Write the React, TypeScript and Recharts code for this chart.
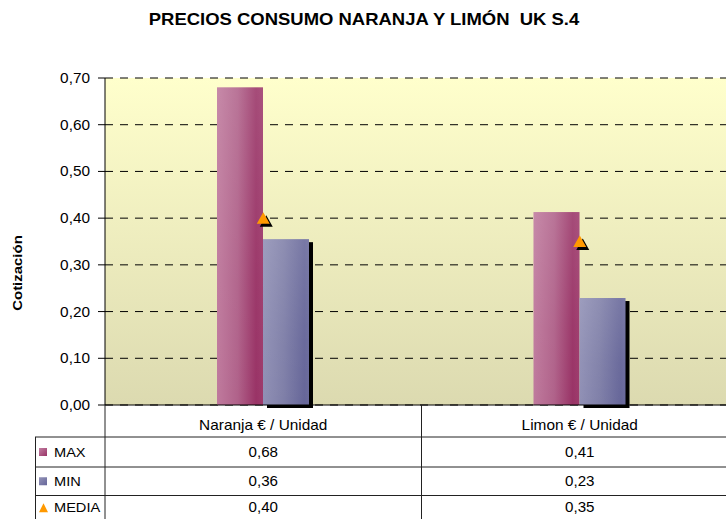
import React from 'react';
import { ComposedChart, Bar, Line, XAxis, YAxis, CartesianGrid } from 'recharts';

const categories = ['Naranja € / Unidad', 'Limon € / Unidad'];
const maxValues = [0.68, 0.413];
const minValues = [0.355, 0.229];
const mediaValues = [0.40, 0.35];
const maxLabels = ['0,68', '0,41'];
const minLabels = ['0,36', '0,23'];
const mediaLabels = ['0,40', '0,35'];
const yTicks = [0, 0.1, 0.2, 0.3, 0.4, 0.5, 0.6, 0.7];

const data = categories.map((c, i) => ({
  name: c,
  MAX: maxValues[i],
  MIN: minValues[i],
  MEDIA: mediaValues[i],
}));

const FONT = '"Liberation Sans", Arial, sans-serif';

const SText = ({ x, y, sx = 1, anchor = 'start', size = 13, bold = false, rotate = 0, children }: any) => (
  <text
    transform={`translate(${x},${y}) rotate(${rotate}) scale(${sx},1)`}
    textAnchor={anchor}
    fontSize={size}
    fontWeight={bold ? 'bold' : 'normal'}
    fontFamily={FONT}
    fill="#000"
    style={{ whiteSpace: 'pre' }}
    xmlSpace="preserve"
  >
    {children}
  </text>
);

const MaxShape = (props: any) => {
  const { x, y, width, height } = props;
  if (!height || height <= 0) return null;
  return (
    <g>
      <rect x={x} y={y} width={width} height={height} fill="url(#maxH)" />
      <rect x={x} y={y} width={width} height={height} fill="url(#shineV)" />
    </g>
  );
};

const MinShape = (props: any) => {
  const { x, y, width, height } = props;
  if (!height || height <= 0) return null;
  return (
    <g>
      <rect x={x + 4} y={y + 3} width={width} height={height} fill="#000" />
      <rect x={x} y={y} width={width} height={height} fill="url(#minH)" />
      <rect x={x} y={y} width={width} height={height} fill="url(#shineV)" />
    </g>
  );
};

const TriangleDot = (props: any) => {
  const { cx, cy } = props;
  if (cx == null || cy == null) return null;
  const s = 6.5;
  const pts = (dx: number, dy: number) =>
    `${cx - s + dx},${cy + 5.5 + dy} ${cx + s + dx},${cy + 5.5 + dy} ${cx + dx},${cy - 6 + dy}`;
  return (
    <g>
      <polygon points={pts(3, 3)} fill="#000" />
      <polygon points={pts(0, 0)} fill="#ff9900" />
    </g>
  );
};

const fmt = (v: number) => v.toFixed(2).replace('.', ',');

const YTick = (props: any) => {
  const { x, y, payload } = props;
  return (
    <SText x={x} y={y + 5} anchor="end" size={14.5} sx={1.06}>
      {fmt(payload.value)}
    </SText>
  );
};

const XTick = (props: any) => {
  const { x, y, payload } = props;
  return (
    <SText x={x} y={y + 13} anchor="middle" size={14} sx={1.1}>
      {payload.value}
    </SText>
  );
};

export default function App() {
  const colX = [105, 421.5, 738];
  const rowY = [405, 437, 467, 495.5, 519];
  const rows = [
    { label: 'MAX', values: maxLabels, kind: 'max' },
    { label: 'MIN', values: minLabels, kind: 'min' },
    { label: 'MEDIA', values: mediaLabels, kind: 'media' },
  ];
  return (
    <div
      style={{
        position: 'absolute',
        left: 0,
        top: 0,
        width: 726,
        height: 519,
        overflow: 'hidden',
        background: '#fff',
        fontFamily: FONT,
      }}
    >
      <ComposedChart
        width={760}
        height={519}
        data={data}
        margin={{ top: 78, right: 22, bottom: 84, left: 0 }}
        barGap={0}
      >
        <defs>
          <linearGradient id="bg" x1="0" y1="0" x2="0" y2="1">
            <stop offset="0%" stopColor="#ffffcc" />
            <stop offset="100%" stopColor="#dcdab0" />
          </linearGradient>
          <linearGradient id="maxH" x1="0" y1="0" x2="1" y2="0">
            <stop offset="0%" stopColor="#bf7a9d" />
            <stop offset="45%" stopColor="#b0628a" />
            <stop offset="85%" stopColor="#993366" />
            <stop offset="100%" stopColor="#9e3b6c" />
          </linearGradient>
          <linearGradient id="minH" x1="0" y1="0" x2="1" y2="0">
            <stop offset="0%" stopColor="#9090b5" />
            <stop offset="45%" stopColor="#7f7fa8" />
            <stop offset="90%" stopColor="#666699" />
            <stop offset="100%" stopColor="#6a6a9c" />
          </linearGradient>
          <linearGradient id="shineV" x1="0" y1="0" x2="0" y2="1">
            <stop offset="0%" stopColor="#ffffff" stopOpacity={0.12} />
            <stop offset="60%" stopColor="#ffffff" stopOpacity={0.03} />
            <stop offset="100%" stopColor="#ffffff" stopOpacity={0} />
          </linearGradient>
        </defs>
        <CartesianGrid
          vertical={false}
          stroke="#000"
          strokeDasharray="8 7"
          fill="url(#bg)"
          fillOpacity={1}
        />
        <XAxis
          dataKey="name"
          axisLine={{ stroke: '#000' }}
          tickLine={false}
          tickMargin={6}
          tick={<XTick />}
        />
        <YAxis
          width={105}
          domain={[0, 0.7]}
          ticks={yTicks}
          axisLine={{ stroke: '#000' }}
          tickLine={{ stroke: '#000' }}
          tickSize={7}
          tickMargin={8}
          interval={0}
          tick={<YTick />}
        />
        <Bar dataKey="MAX" barSize={46} shape={<MaxShape />} isAnimationActive={false} />
        <Bar dataKey="MIN" barSize={46} shape={<MinShape />} isAnimationActive={false} />
        <Line
          dataKey="MEDIA"
          stroke="none"
          dot={<TriangleDot />}
          activeDot={false}
          isAnimationActive={false}
        />
      </ComposedChart>

      <svg
        width={726}
        height={519}
        style={{ position: 'absolute', left: 0, top: 0, pointerEvents: 'none' }}
      >
        <defs>
          <linearGradient id="legMax" x1="0" y1="0" x2="1" y2="1">
            <stop offset="0%" stopColor="#c27fa2" />
            <stop offset="100%" stopColor="#993366" />
          </linearGradient>
          <linearGradient id="legMin" x1="0" y1="0" x2="1" y2="1">
            <stop offset="0%" stopColor="#9393b8" />
            <stop offset="100%" stopColor="#666699" />
          </linearGradient>
        </defs>
        <SText x={364} y={25} anchor="middle" size={16.5} bold sx={1.12}>
          PRECIOS CONSUMO NARANJA Y LIMÓN  UK S.4
        </SText>
        <SText x={22} y={273} anchor="middle" size={13} bold sx={1.15} rotate={-90}>
          Cotización
        </SText>
        <line x1={105} y1={405} x2={105} y2={519} stroke="#222" />
        <line x1={421.5} y1={405} x2={421.5} y2={519} stroke="#222" />
        <line x1={35.5} y1={437} x2={35.5} y2={519} stroke="#222" />
        {[437, 467, 495.5].map((yy) => (
          <line key={yy} x1={35} y1={yy} x2={726} y2={yy} stroke="#222" />
        ))}
        {rows.map((r, ri) => {
          const yc = (rowY[ri + 1] + rowY[ri + 2]) / 2;
          return (
            <g key={r.label}>
              {r.kind === 'max' && <rect x={39} y={yc - 4} width={8} height={8} fill="url(#legMax)" />}
              {r.kind === 'min' && <rect x={39} y={yc - 4} width={8} height={8} fill="url(#legMin)" />}
              {r.kind === 'media' && (
                <polygon points={`${39},${yc + 5} ${48},${yc + 5} ${43.5},${yc - 4}`} fill="#ff9900" />
              )}
              <SText x={54} y={yc + 5} size={13.5} sx={1.08}>
                {r.label}
              </SText>
              {r.values.map((v, ci) => (
                <SText key={ci} x={(colX[ci] + colX[ci + 1]) / 2} y={yc + 5} anchor="middle" size={14} sx={1.08}>
                  {v}
                </SText>
              ))}
            </g>
          );
        })}
      </svg>
    </div>
  );
}
